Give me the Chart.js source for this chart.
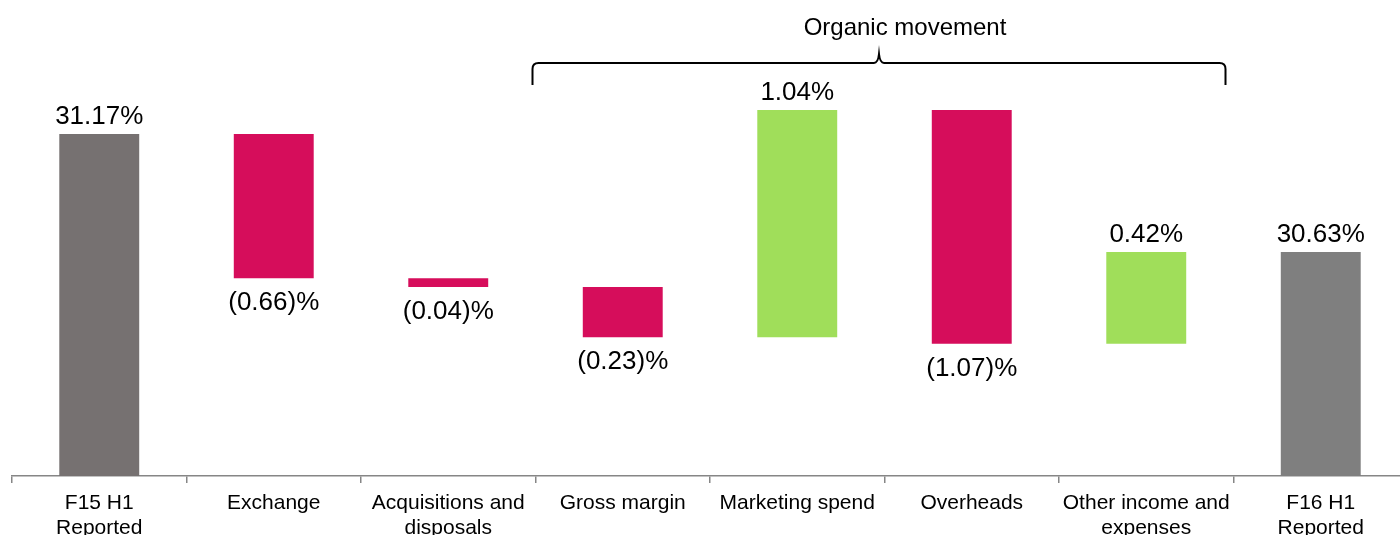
<!DOCTYPE html>
<html>
<head>
<meta charset="utf-8">
<script src="https://cdn.jsdelivr.net/npm/chart.js@4/dist/chart.umd.min.js"></script>
<style>
  html, body { margin: 0; padding: 0; overflow: hidden; background: #fff; }
  #wrap { width: 1420px; height: 560px; }
</style>
</head>
<body>
<div id="wrap"><canvas id="bridge" width="1420" height="560"></canvas></div>
<script>
// categories and values (percent)
const labels = [
  ['F15 H1', 'Reported'],
  'Exchange',
  ['Acquisitions and', 'disposals'],
  'Gross margin',
  'Marketing spend',
  'Overheads',
  ['Other income and', 'expenses'],
  ['F16 H1', 'Reported']
];
const startValue = 31.17;
const movements = [-0.66, -0.04, -0.23, 1.04, -1.07, 0.42];
const endValue = 30.63;
const bracketLabel = 'Organic movement';

const colTotalStart = '#767171';
const colTotalEnd = '#7f7f7f';
const colDown = '#d60d5b';
const colUp = '#a0de5a';

// floating bars [low, high]
const bars = [[29.0, startValue]];
const colors = [colTotalStart];
let run = startValue;
for (const m of movements) {
  bars.push([run, run + m]);
  colors.push(m < 0 ? colDown : colUp);
  run += m;
}
bars.push([29.0, endValue]);
colors.push(colTotalEnd);

const shown = [startValue, ...movements, endValue];
function fmt(v, i) {
  if (i === 0 || i === shown.length - 1) return v.toFixed(2) + '%';
  return v < 0 ? '(' + Math.abs(v).toFixed(2) + ')%' : v.toFixed(2) + '%';
}

const valueLabels = {
  id: 'valueLabels',
  afterDatasetsDraw(chart) {
    const ctx = chart.ctx;
    const meta = chart.getDatasetMeta(0);
    ctx.save();
    ctx.font = '26px "Liberation Sans", Arial, sans-serif';
    ctx.fillStyle = '#000';
    ctx.textAlign = 'center';
    ctx.textBaseline = 'middle';
    meta.data.forEach((bar, i) => {
      const top = Math.min(bar.y, bar.base);
      const bottom = Math.max(bar.y, bar.base);
      const v = shown[i];
      const y = v < 0 ? bottom + 25 : top - 17;
      ctx.fillText(fmt(v, i), bar.x, y);
    });
    ctx.restore();
  }
};

const brace = {
  id: 'brace',
  afterDraw(chart) {
    const ctx = chart.ctx;
    const x = chart.scales.x;
    const half = (x.getPixelForValue(1) - x.getPixelForValue(0)) / 2;
    const left = x.getPixelForValue(3) - half - 3;
    const right = x.getPixelForValue(6) + half - 8;
    const mid = (left + right) / 2;
    const yl = 63, yb = 85, yp = 54, r = 6;
    ctx.save();
    ctx.strokeStyle = '#000';
    ctx.lineWidth = 2;
    ctx.beginPath();
    ctx.moveTo(left, yb);
    ctx.lineTo(left, yl + r);
    ctx.quadraticCurveTo(left, yl, left + r, yl);
    ctx.lineTo(mid - 5, yl);
    ctx.quadraticCurveTo(mid - 1, yl, mid, yp);
    ctx.quadraticCurveTo(mid + 1, yl, mid + 5, yl);
    ctx.lineTo(right - r, yl);
    ctx.quadraticCurveTo(right, yl, right, yl + r);
    ctx.lineTo(right, yb);
    ctx.stroke();
    ctx.font = '24px "Liberation Sans", Arial, sans-serif';
    ctx.fillStyle = '#000';
    ctx.textAlign = 'center';
    ctx.textBaseline = 'middle';
    ctx.fillText(bracketLabel, mid + 26, 28);
    ctx.restore();
  }
};

new Chart(document.getElementById('bridge'), {
  type: 'bar',
  data: {
    labels: labels,
    datasets: [{
      data: bars,
      backgroundColor: colors,
      borderWidth: 0,
      barPercentage: 0.458,
      categoryPercentage: 1.0
    }]
  },
  options: {
    responsive: false,
    animation: false,
    layout: { padding: { top: 50, left: 12, right: 12, bottom: 0 } },
    plugins: {
      legend: { display: false },
      tooltip: { enabled: false }
    },
    scales: {
      x: {
        afterFit: (scale) => { scale.height = 84; },
        grid: {
          offset: true,
          drawOnChartArea: false,
          drawTicks: true,
          tickLength: 7,
          color: '#868686',
          lineWidth: 1.5
        },
        border: { display: true, color: '#868686', width: 1.5 },
        ticks: {
          color: '#000',
          padding: 8,
          maxRotation: 0,
          autoSkip: false,
          font: { family: '"Liberation Sans", Arial, sans-serif', size: 21, lineHeight: 1.19 }
        }
      },
      y: {
        display: false,
        min: 29.605,
        max: 31.555
      }
    }
  },
  plugins: [valueLabels, brace]
});
</script>
</body>
</html>
